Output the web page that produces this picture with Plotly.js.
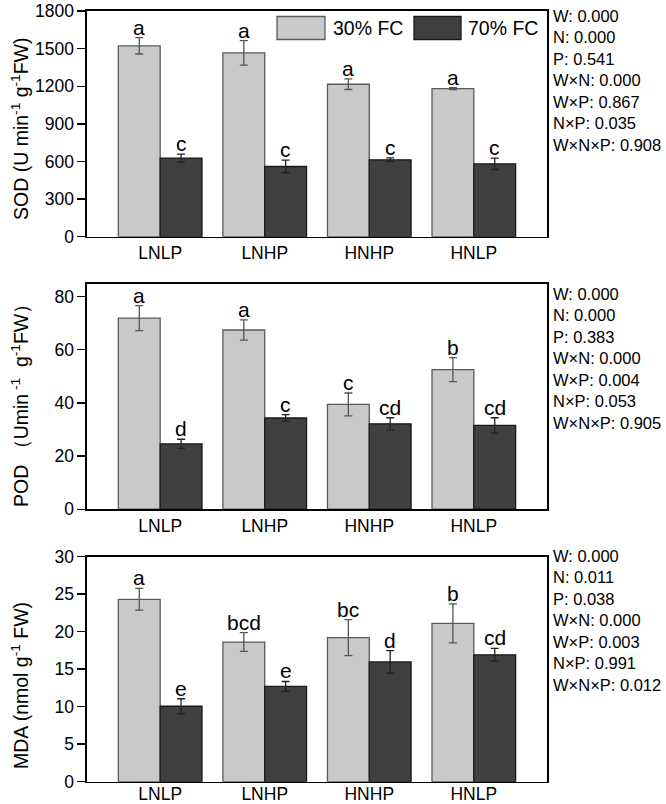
<!DOCTYPE html>
<html>
<head>
<meta charset="utf-8">
<script src="https://cdn.plot.ly/plotly-3.0.1.min.js"></script>
<style>html,body{margin:0;padding:0;background:#fff;}#chart{width:666px;height:804px;}</style>
</head>
<body>
<div id="chart"></div>
<script>
// ---- data ----
const categories = ['LNLP', 'LNHP', 'HNHP', 'HNLP'];
const seriesNames = ['30% FC', '70% FC'];

const sod30 = [1522, 1466, 1216, 1181];
const sod30Err = [65, 97, 42, 8];
const sod70 = [627, 560, 613, 581];
const sod70Err = [32, 50, 15, 45];
const sod30Letters = ['a', 'a', 'a', 'a'];
const sod70Letters = ['c', 'c', 'c', 'c'];

const pod30 = [71.9, 67.4, 39.4, 52.5];
const pod30Err = [4.7, 3.8, 4.3, 4.5];
const pod70 = [24.6, 34.3, 32.1, 31.5];
const pod70Err = [1.7, 1.3, 2.3, 2.9];
const pod30Letters = ['a', 'a', 'c', 'b'];
const pod70Letters = ['d', 'c', 'cd', 'cd'];

const mda30 = [24.3, 18.6, 19.2, 21.1];
const mda30Err = [1.45, 1.25, 2.4, 2.6];
const mda70 = [10.05, 12.7, 15.95, 16.9];
const mda70Err = [1.0, 0.65, 1.5, 0.85];
const mda30Letters = ['a', 'bcd', 'bc', 'b'];
const mda70Letters = ['e', 'e', 'd', 'cd'];

const statLabels = ['W', 'N', 'P', 'W×N', 'W×P', 'N×P', 'W×N×P'];
const sodStats = ['0.000', '0.000', '0.541', '0.000', '0.867', '0.035', '0.908'];
const podStats = ['0.000', '0.000', '0.383', '0.000', '0.004', '0.053', '0.905'];
const mdaStats = ['0.000', '0.011', '0.038', '0.000', '0.003', '0.991', '0.012'];

const sodTitle = 'SOD (U min<sup>-1</sup> g<sup>-1</sup>FW)';
const podTitle = 'POD （Umin<sup> -1</sup>  g<sup>-1</sup>FW）';
const mdaTitle = 'MDA (nmol g<sup>-1</sup> FW)';

// ---- styling / layout ----
const W = 666, H = 804;
const FONT = 'Liberation Sans, Arial, Helvetica, sans-serif';
const lightColor = '#c9c9c9', darkColor = '#404040';
const px = v => v / W;
const py = v => 1 - v / H;

const panels = [
  {k: '', top: 11, bottom: 236.7, max: 1800, dtick: 300, s30: sod30, e30: sod30Err, s70: sod70, e70: sod70Err,
   l30: sod30Letters, l70: sod70Letters, stats: sodStats, title: sodTitle, titleY: 129, statsTop: 5, standoff: 0},
  {k: '2', top: 284, bottom: 509.2, max: 84.7, dtick: 20, s30: pod30, e30: pod30Err, s70: pod70, e70: pod70Err,
   l30: pod30Letters, l70: pod70Letters, stats: podStats, title: podTitle, titleY: 401, statsTop: 283, standoff: 0},
  {k: '3', top: 556.5, bottom: 781.7, max: 30, dtick: 5, s30: mda30, e30: mda30Err, s70: mda70, e70: mda70Err,
   l30: mda30Letters, l70: mda70Letters, stats: mdaStats, title: mdaTitle, titleY: 686, statsTop: 545, standoff: -4}
];

const traces = [];
const layout = {
  width: W, height: H,
  margin: {l: 0, r: 0, t: 0, b: 0},
  paper_bgcolor: '#fff', plot_bgcolor: '#fff',
  font: {family: FONT, color: '#000', size: 17},
  barmode: 'group', bargap: 0.2, bargroupgap: 0,
  showlegend: false,
  annotations: [], shapes: []
};

panels.forEach((p, idx) => {
  const xa = 'x' + p.k, ya = 'y' + p.k;
  traces.push({
    type: 'bar', name: seriesNames[0], x: categories, y: p.s30, xaxis: xa, yaxis: ya,
    marker: {color: lightColor, line: {color: '#5a5a5a', width: 1.3}},
    error_y: {type: 'data', array: p.e30, visible: true, color: '#555', thickness: 1.3, width: 4}
  });
  traces.push({
    type: 'bar', name: seriesNames[1], x: categories, y: p.s70, xaxis: xa, yaxis: ya,
    marker: {color: darkColor, line: {color: '#1a1a1a', width: 1.3}},
    error_y: {type: 'data', array: p.e70, visible: true, color: '#222', thickness: 1.3, width: 4}
  });
  layout['xaxis' + p.k] = {
    domain: [px(87), px(547)], anchor: ya, type: 'category', range: [-0.7, 3.7],
    showline: true, mirror: true, linecolor: '#000', linewidth: 1.6,
    ticks: '', showgrid: false, zeroline: false, fixedrange: true,
    ticklabelstandoff: p.standoff,
    tickfont: {family: FONT, size: 17.5, color: '#000'}
  };
  layout['yaxis' + p.k] = {
    domain: [py(p.bottom), py(p.top)], anchor: xa, range: [0, p.max], dtick: p.dtick, tick0: 0,
    showline: true, mirror: true, linecolor: '#000', linewidth: 1.6,
    ticks: 'outside', ticklen: 8, tickwidth: 1.4, tickcolor: '#000',
    showgrid: false, zeroline: false, fixedrange: true,
    tickfont: {family: FONT, size: 17.5, color: '#000'}
  };
  // significance letters
  categories.forEach((c, i) => {
    layout.annotations.push({xref: xa, yref: ya, x: i - 0.2, y: p.s30[i] + p.e30[i], text: p.l30[i],
      showarrow: false, yanchor: 'bottom', yshift: -3, font: {family: FONT, size: 21, color: '#000'}});
    layout.annotations.push({xref: xa, yref: ya, x: i + 0.2, y: p.s70[i] + p.e70[i], text: p.l70[i],
      showarrow: false, yanchor: 'bottom', yshift: -3, font: {family: FONT, size: 21, color: '#000'}});
  });
  // stats text
  layout.annotations.push({xref: 'paper', yref: 'paper', x: px(551), y: py(p.statsTop),
    xanchor: 'left', yanchor: 'top', align: 'left', showarrow: false,
    text: statLabels.map((l, j) => l + ': ' + p.stats[j]).join('<br>'),
    font: {family: FONT, size: 16.5, color: '#000'}});
  // y title
  layout.annotations.push({xref: 'paper', yref: 'paper', x: px(20), y: py(p.titleY),
    xanchor: 'center', yanchor: 'middle', textangle: -90, showarrow: false,
    text: p.title, font: {family: FONT, size: 19.5, color: '#000'}});
});

// legend (top panel)
const legendItems = [
  {x0: 277, x1: 325, color: lightColor, line: '#5a5a5a', tx: 331, label: seriesNames[0]},
  {x0: 414, x1: 461, color: darkColor, line: '#1a1a1a', tx: 466, label: seriesNames[1]}
];
legendItems.forEach(it => {
  layout.shapes.push({type: 'rect', xref: 'paper', yref: 'paper', x0: px(it.x0), x1: px(it.x1),
    y0: py(39.5), y1: py(16.5), fillcolor: it.color, line: {color: it.line, width: 1.3}});
  layout.annotations.push({xref: 'paper', yref: 'paper', x: px(it.tx), y: py(28),
    xanchor: 'left', yanchor: 'middle', showarrow: false, text: it.label,
    font: {family: FONT, size: 19.5, color: '#000'}});
});

Plotly.newPlot('chart', traces, layout, {displayModeBar: false, staticPlot: true});
</script>
</body>
</html>
